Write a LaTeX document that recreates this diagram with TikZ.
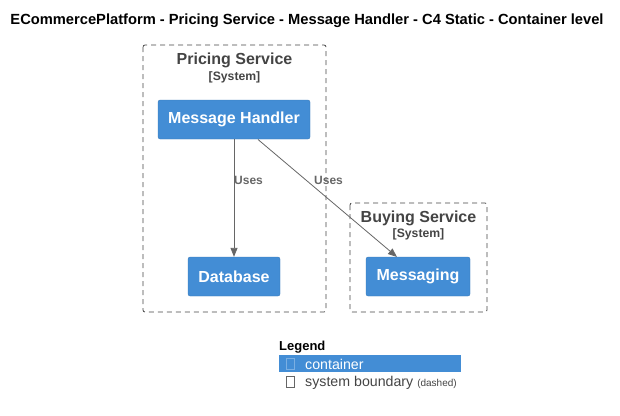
\documentclass[tikz,border=0pt]{standalone}
\usepackage{fontspec}
\setmainfont{Liberation Sans}
\usetikzlibrary{arrows.meta}
\definecolor{cblue}{HTML}{438DD5}
\definecolor{tgray}{HTML}{444444}
\definecolor{lgray}{HTML}{666666}
\begin{document}
\begin{tikzpicture}[x=1pt,y=-1pt,
  bnd/.style={draw=tgray, dashed, dash pattern=on 5pt off 4pt, rounded corners=2pt, line width=0.8pt},
  cont/.style={fill=cblue, draw=cblue!85!black, line width=0.3pt, rounded corners=2pt, text=white, font=\fontsize{16}{18}\selectfont\bfseries, inner sep=0pt},
  btitle/.style={text=tgray, font=\fontsize{16}{18}\selectfont\bfseries, inner sep=0pt},
  bsub/.style={text=tgray, font=\fontsize{12.2}{13}\selectfont\bfseries, inner sep=0pt},
  rel/.style={draw=lgray, line width=0.8pt, -{Triangle[length=9pt,width=7pt]}},
  rlab/.style={text=lgray, font=\fontsize{12}{13}\selectfont\bfseries, inner sep=0pt, anchor=west}]
\useasboundingbox (0,0) rectangle (620,415);
\node[font=\fontsize{14.7}{16}\selectfont\bfseries, inner sep=0pt] (title) at (307,20.5) {ECommercePlatform - Pricing Service - Message Handler - C4 Static - Container level};
% boundaries
\draw[bnd] (143,45) rectangle (326,312);
\draw[bnd] (350,203) rectangle (487,312);
\node[btitle] (pst) at (234.5,60) {Pricing Service};
\node[bsub] (pss) at (234.5,77) {[System]};
\node[btitle] (bst) at (418.5,218) {Buying Service};
\node[bsub] (bss) at (418.5,234) {[System]};
% containers
\node[cont, minimum width=152pt, minimum height=39pt] (mh) at (234,119.5) {Message Handler};
\node[cont, minimum width=92pt, minimum height=39pt] (db) at (234,276.5) {Database};
\node[cont, minimum width=104pt, minimum height=39pt] (msg) at (418,276.5) {Messaging};
% relations
\coordinate (mhs) at (258,139.5);
\coordinate (msgt) at (397,257);
\draw[rel] (mh.south) -- (db.north);
\draw[rel] (mhs) -- (msgt);
\node[rlab] (u1) at (234,180.5) {Uses};
\node[rlab] (u2) at (314,180.5) {Uses};
% legend
\node[font=\fontsize{13}{14}\selectfont\bfseries, inner sep=0pt, anchor=west] (leg) at (279,347.5) {Legend};
\fill[cblue] (279,355) rectangle (461,372);
\draw[cblue!70!white, line width=0.5pt] (286,358) rectangle (294,369);
\node[text=white, font=\fontsize{14.2}{16}\selectfont, inner sep=0pt, anchor=west] (lc) at (305,364.5) {container};
\draw[lgray, line width=0.6pt] (286,376) rectangle (294,387);
\node[text=tgray, font=\fontsize{14.2}{16}\selectfont, inner sep=0pt, anchor=west] (lb) at (305,382.5) {system boundary {\fontsize{10}{11}\selectfont(dashed)}};
\end{tikzpicture}
\end{document}
